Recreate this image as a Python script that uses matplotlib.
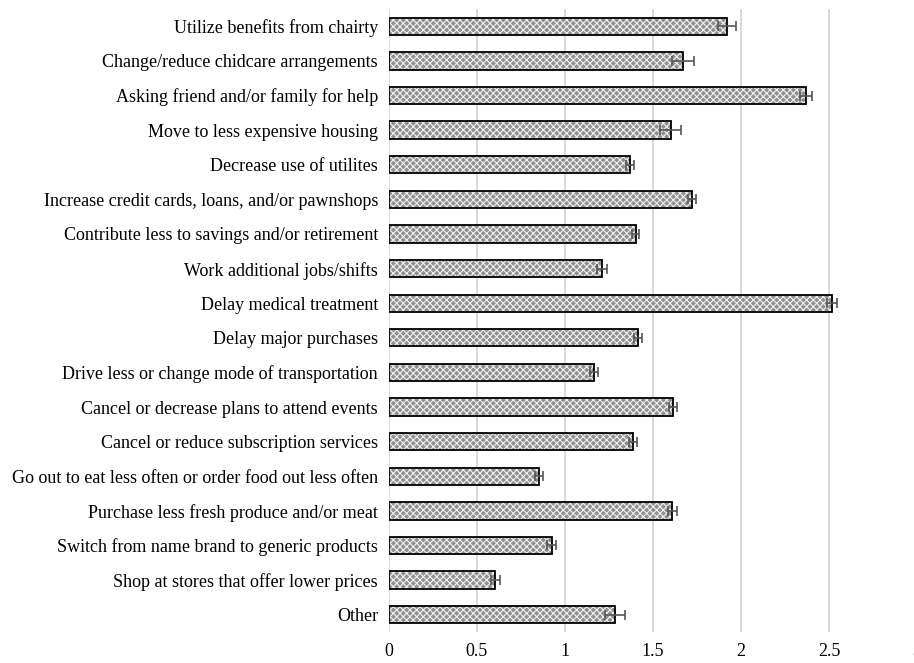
import numpy as np
import matplotlib.pyplot as plt

plt.rcParams['font.family'] = ['Liberation Serif', 'DejaVu Serif']
plt.rcParams['hatch.linewidth'] = 0.8

labels = ['Utilize benefits from chairty',
          'Change/reduce chidcare arrangements',
          'Asking friend and/or family for help',
          'Move to less expensive housing',
          'Decrease use of utilites',
          'Increase credit cards, loans, and/or pawnshops',
          'Contribute less to savings and/or retirement',
          'Work additional jobs/shifts',
          'Delay medical treatment',
          'Delay major purchases',
          'Drive less or change mode of transportation',
          'Cancel or decrease plans to attend events',
          'Cancel or reduce subscription services',
          'Go out to eat less often or order food out less often',
          'Purchase less fresh produce and/or meat',
          'Switch from name brand to generic products',
          'Shop at stores that offer lower prices',
          'Other']
means = [1.92, 1.67, 2.37, 1.60, 1.367, 1.723, 1.401, 1.21, 2.515,
         1.415, 1.165, 1.612, 1.388, 0.85, 1.61, 0.924, 0.604, 1.284]
errs = [0.05, 0.064, 0.034, 0.061, 0.023, 0.022, 0.022, 0.03, 0.028,
        0.023, 0.021, 0.023, 0.023, 0.023, 0.024, 0.025, 0.025, 0.055]

fig = plt.figure(figsize=(9.14, 6.63), dpi=100)
ax = fig.add_axes([389/914, 31/663, 528/914, 623/663])

y = np.arange(len(labels))
ax.barh(y, means, height=0.5, color='#909090', edgecolor='#f0f0f0',
        hatch='xxxxx', linewidth=0, zorder=2)
ax.barh(y, means, height=0.5, fill=False, edgecolor='black',
        linewidth=1.3, zorder=3)
ax.errorbar(means, y, xerr=errs, fmt='none', ecolor='#555555',
            elinewidth=1.2, capsize=3.5, capthick=1.2, zorder=4)

ax.set_xlim(0, 3)
ax.set_ylim(len(labels) - 0.5, -0.5)
ax.set_xticks(np.arange(0, 3.01, 0.5))
ax.set_xticklabels(['0', '0.5', '1', '1.5', '2', '2.5', '3'])
ax.set_yticks(y)
ax.set_yticklabels(labels)
ax.tick_params(axis='both', length=0, labelsize=13)
ax.tick_params(axis='y', pad=8)
ax.tick_params(axis='x', pad=8)
ax.xaxis.grid(True, color='#d9d9d9', linewidth=1.4, zorder=0)
ax.set_axisbelow(True)
for s in ax.spines.values():
    s.set_visible(False)

plt.savefig('out.png', dpi=100)
